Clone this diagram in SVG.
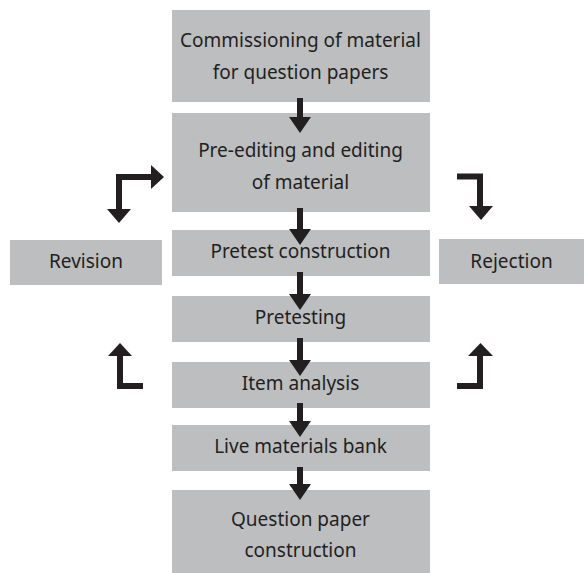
<svg xmlns="http://www.w3.org/2000/svg" width="585" height="573" viewBox="0 0 585 573">
<style>
.box{fill:#bcbec0;}
.t{font-family:"Noto Sans","Open Sans",sans-serif;font-size:19px;fill:#231f20;text-anchor:middle;}
.c{stroke:#231f20;stroke-width:6;fill:none;}
.h{fill:#231f20;}
</style>
<rect width="585" height="573" fill="#ffffff"/>
<g id="n1"><rect class="box" x="172" y="10" width="258" height="92"/><text class="t" x="300.5" y="46.5">Commissioning of material</text><text class="t" x="300.5" y="79">for question papers</text></g>
<g id="n2"><rect class="box" x="172" y="113" width="258" height="99"/><text class="t" x="300.5" y="157">Pre-editing and editing</text><text class="t" x="300.5" y="189">of material</text></g>
<g id="n3"><rect class="box" x="172" y="230" width="258" height="46"/><text class="t" x="300.5" y="258">Pretest construction</text></g>
<g id="n4"><rect class="box" x="172" y="296" width="258" height="46"/><text class="t" x="300.5" y="324">Pretesting</text></g>
<g id="n5"><rect class="box" x="172" y="362" width="258" height="46"/><text class="t" x="300.5" y="390">Item analysis</text></g>
<g id="n6"><rect class="box" x="172" y="425" width="258" height="46"/><text class="t" x="300.5" y="453">Live materials bank</text></g>
<g id="n7"><rect class="box" x="172" y="490" width="258" height="83"/><text class="t" x="300.5" y="526">Question paper</text><text class="t" x="300.5" y="557">construction</text></g>
<g id="revision"><rect class="box" x="10" y="240" width="152" height="45"/><text class="t" x="86" y="268">Revision</text></g>
<g id="rejection"><rect class="box" x="439" y="239" width="145" height="45"/><text class="t" x="511.5" y="268">Rejection</text></g>
<g id="connectors">
<path class="c" d="M300 98V119"/><polygon class="h" points="289,117 311,117 300,133"/>
<path class="c" d="M300 208V231"/><polygon class="h" points="289,229 311,229 300,245"/>
<path class="c" d="M300 272V296"/><polygon class="h" points="289,294 311,294 300,310"/>
<path class="c" d="M300 338V362"/><polygon class="h" points="289,360 311,360 300,376"/>
<path class="c" d="M300 403V423"/><polygon class="h" points="289,421 311,421 300,437"/>
<path class="c" d="M300 467V486"/><polygon class="h" points="289,484 311,484 300,500"/>
<path class="c" d="M119 211V177H153"/><polygon class="h" points="151,165 151,189 164,177"/><polygon class="h" points="107,209 131,209 119,223"/>
<path class="c" d="M457 176.5H480V208"/><polygon class="h" points="469,206 493,206 481,220"/>
<path class="c" d="M120 355V386H143"/><polygon class="h" points="108,356 132,356 120,343"/>
<path class="c" d="M457 386H480V355"/><polygon class="h" points="468,356 493,356 480.5,343"/>
</g>
</svg>
